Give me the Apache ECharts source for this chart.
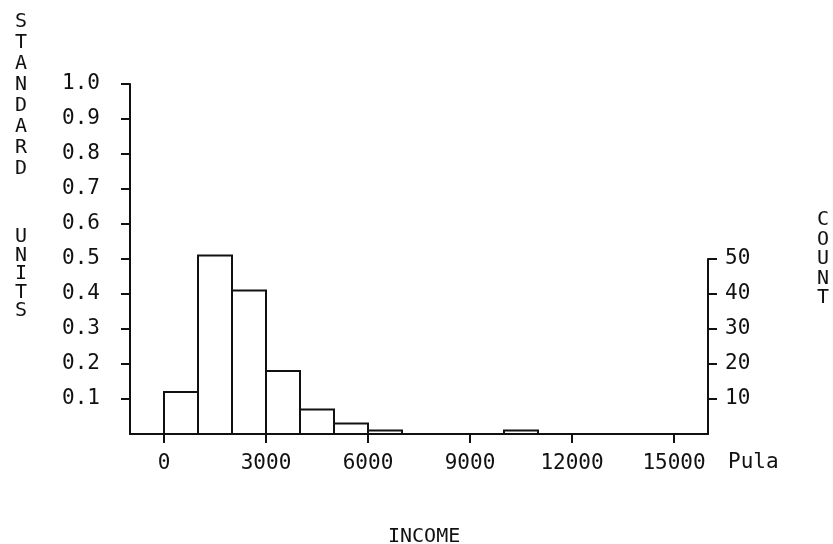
<!DOCTYPE html>
<html><head><meta charset="utf-8">
<script src="https://cdn.jsdelivr.net/npm/echarts@6/dist/echarts.min.js"></script>
<style>html,body{margin:0;padding:0;background:#fff}#c{width:833px;height:544px}</style>
</head><body><div id="c"></div>
<script>
// ---- data ----
const binStarts = [0, 1000, 2000, 3000, 4000, 5000, 6000, 7000, 8000, 9000, 10000, 11000, 12000, 13000, 14000];
const binWidth = 1000;
const counts = [12, 51, 41, 18, 7, 3, 1, 0, 0, 0, 1, 0, 0, 0, 0];
const xTicks = [0, 3000, 6000, 9000, 12000, 15000];
const leftTicks = [0.1, 0.2, 0.3, 0.4, 0.5, 0.6, 0.7, 0.8, 0.9, 1.0];
const rightTicks = [10, 20, 30, 40, 50];
const xUnit = 'Pula';
const xTitle = 'INCOME';
const leftTitle1 = 'STANDARD';
const leftTitle2 = 'UNITS';
const rightTitle = 'COUNT';

const FONT = 'DejaVu Sans Mono';
const INK = '#111';
const vert = s => s.split('').join('\n');

const chart = echarts.init(document.getElementById('c'));
const lineStyle = { color: INK, width: 2 };
const labelStyle = { fontFamily: FONT, fontSize: 21, color: INK };

chart.setOption({
  animation: false,
  backgroundColor: '#fff',
  grid: [
    { left: 130, right: 125, top: 84, bottom: 110 },
    { left: 130, right: 125, top: 259, bottom: 110 }
  ],
  xAxis: [
    {
      gridIndex: 0, type: 'value', min: -1000, max: 16000,
      axisLine: { show: true, onZero: false, lineStyle },
      axisTick: { show: true, customValues: xTicks, length: 9, lineStyle },
      axisLabel: Object.assign({ customValues: xTicks, margin: 19, formatter: v => String(v) }, labelStyle),
      splitLine: { show: false }
    },
    { gridIndex: 1, type: 'value', min: -1000, max: 16000, show: false }
  ],
  yAxis: [
    {
      gridIndex: 0, type: 'value', min: 0, max: 1, position: 'left',
      axisLine: { show: true, onZero: false, lineStyle },
      axisTick: { show: true, customValues: leftTicks, length: 9, lineStyle },
      axisLabel: Object.assign({ customValues: leftTicks, margin: 30, formatter: v => v.toFixed(1) }, labelStyle),
      splitLine: { show: false }
    },
    { gridIndex: 0, type: 'value', min: 0, max: 100, show: false },
    {
      gridIndex: 1, type: 'value', min: 0, max: 50, position: 'right',
      axisLine: { show: true, onZero: false, lineStyle },
      axisTick: { show: true, customValues: rightTicks, length: 9, lineStyle },
      axisLabel: Object.assign({ customValues: rightTicks, margin: 17, formatter: v => String(v) }, labelStyle),
      splitLine: { show: false }
    }
  ],
  series: [{
    type: 'custom',
    xAxisIndex: 0, yAxisIndex: 1,
    data: binStarts.map((b, i) => [b, b + binWidth, counts[i]]),
    encode: { x: [0, 1], y: 2 },
    renderItem(params, api) {
      const c = api.value(2);
      if (!c) return null;
      const p0 = api.coord([api.value(0), c]);
      const p1 = api.coord([api.value(1), 0]);
      return {
        type: 'rect',
        shape: { x: p0[0], y: p0[1], width: p1[0] - p0[0], height: p1[1] - p0[1] },
        style: { fill: '#fff', stroke: INK, lineWidth: 2 }
      };
    }
  }],
  graphic: [
    { type: 'text', left: 728, top: 452, style: { text: xUnit, font: `21px "${FONT}"`, fill: INK } },
    { type: 'text', left: 388, top: 527, style: { text: xTitle, font: `20px "${FONT}"`, fill: INK } },
    { type: 'text', left: 15, top: 11, style: { text: vert(leftTitle1), font: `20px "${FONT}"`, fill: INK, lineHeight: 21 } },
    { type: 'text', left: 15, top: 227, style: { text: vert(leftTitle2), font: `20px "${FONT}"`, fill: INK, lineHeight: 18.5 } },
    { type: 'text', left: 817, top: 210, style: { text: vert(rightTitle), font: `20px "${FONT}"`, fill: INK, lineHeight: 19.5 } }
  ]
});
</script></body></html>
